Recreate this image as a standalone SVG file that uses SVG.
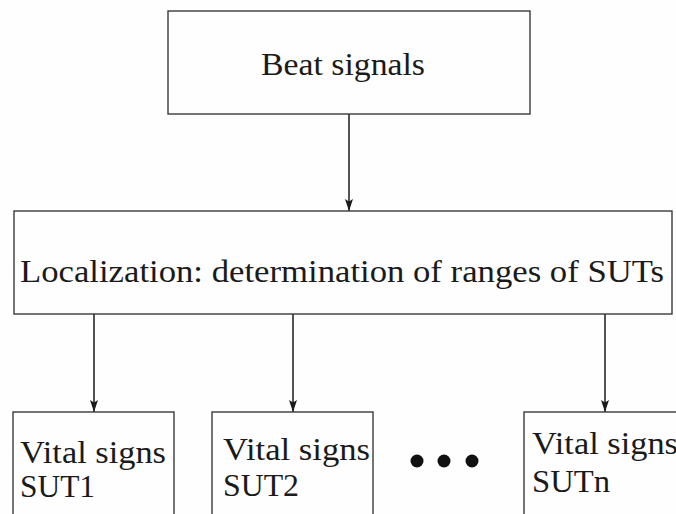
<svg xmlns="http://www.w3.org/2000/svg" width="676" height="514" viewBox="0 0 676 514">
<defs>
<style>
.box{fill:#fefefe;stroke:#3a3a3a;stroke-width:1.4}
.t{font-family:"Liberation Serif","Times New Roman",serif;font-size:32px;fill:#1a1a1a}
.c{stroke:#1a1a1a;stroke-width:1.5;fill:none}
</style>
<marker id="ah" viewBox="0 0 12 8" refX="12" refY="4" markerWidth="12" markerHeight="8" markerUnits="userSpaceOnUse" orient="auto">
<path d="M0,0 L12,4 L0,8 L2.5,4 Z" fill="#1a1a1a"/>
</marker>
</defs>
<rect width="676" height="514" fill="#fefefe"/>
<g id="connectors">
<line class="c" x1="349" y1="114" x2="349" y2="211" marker-end="url(#ah)"/>
<line class="c" x1="94" y1="314" x2="94" y2="412" marker-end="url(#ah)"/>
<line class="c" x1="293" y1="314" x2="293" y2="412" marker-end="url(#ah)"/>
<line class="c" x1="605" y1="314" x2="605" y2="412" marker-end="url(#ah)"/>
</g>
<g id="beat">
<rect class="box" x="168" y="11" width="362" height="103"/>
<text class="t" x="261" y="75" textLength="164" lengthAdjust="spacingAndGlyphs">Beat signals</text>
</g>
<g id="localization">
<rect class="box" x="14" y="211" width="658" height="103"/>
<text class="t" x="20" y="282" textLength="644" lengthAdjust="spacingAndGlyphs">Localization: determination of ranges of SUTs</text>
</g>
<g id="sut1">
<rect class="box" x="13" y="412" width="161" height="110"/>
<text class="t" x="20" y="463" textLength="146" lengthAdjust="spacingAndGlyphs">Vital signs</text>
<text class="t" x="20" y="497" textLength="75" lengthAdjust="spacingAndGlyphs">SUT1</text>
</g>
<g id="sut2">
<rect class="box" x="212" y="412" width="161" height="110"/>
<text class="t" x="223" y="460" textLength="147" lengthAdjust="spacingAndGlyphs">Vital signs</text>
<text class="t" x="223" y="496" textLength="76" lengthAdjust="spacingAndGlyphs">SUT2</text>
</g>
<g id="dots" fill="#111">
<circle cx="417" cy="461" r="6.5"/>
<circle cx="444" cy="461" r="6.5"/>
<circle cx="472" cy="461" r="6.5"/>
</g>
<g id="sutn">
<rect class="box" x="524" y="412" width="160" height="110"/>
<text class="t" x="532" y="454" textLength="146" lengthAdjust="spacingAndGlyphs">Vital signs</text>
<text class="t" x="532" y="492" textLength="78" lengthAdjust="spacingAndGlyphs">SUTn</text>
</g>
</svg>
